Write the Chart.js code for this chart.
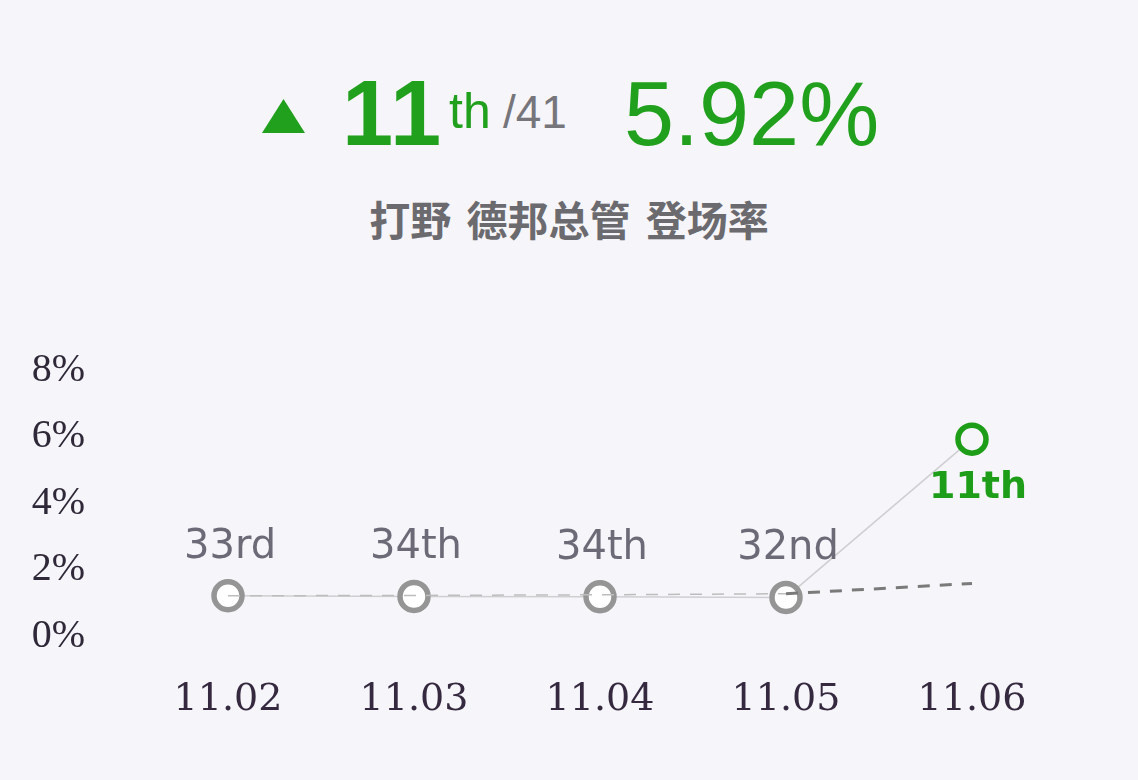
<!DOCTYPE html>
<html>
<head>
<meta charset="utf-8">
<script src="https://cdn.jsdelivr.net/npm/chart.js@4.4.1/dist/chart.umd.min.js"></script>
<style>
  html, body { margin:0; padding:0; background:#f6f5f9; }
  #wrap { position:relative; width:1138px; height:780px; overflow:hidden; background:#f6f5f9; }
  #wrap canvas { position:absolute; left:0; top:0; }
  .t { position:absolute; line-height:1; white-space:nowrap; font-family:"Liberation Sans", Arial, sans-serif; }
  #tri { position:absolute; left:262px; top:99px; width:43px; height:34px; background:#20a01c;
         clip-path:polygon(50% 0, 100% 100%, 0 100%); }
  #sub { position:absolute; left:0; width:1138px; top:198px; text-align:center; line-height:1;
         font-family:"Noto Sans CJK SC", sans-serif; font-weight:700; font-size:41px; color:#6b6a6e; word-spacing:6px; }
</style>
</head>
<body>
<div id="wrap">
  <div id="tri"></div>
  <div class="t" style="left:342px; top:67px; font-size:92px; font-weight:700; color:#20a01c; letter-spacing:2px;">11</div>
  <div class="t" style="left:449px; top:86px; font-size:50px; color:#20a01c;">th</div>
  <div class="t" style="left:503px; top:89px; font-size:46px; color:#76757c;">/41</div>
  <div class="t" style="left:624px; top:69px; font-size:90px; color:#20a01c;">5.92%</div>
  <div id="sub">打野 德邦总管 登场率</div>
  <canvas id="c" width="1138" height="780"></canvas>
</div>
<script>
const categories = ["11.02", "11.03", "11.04", "11.05", "11.06"];
const pickRate = [1.21, 1.19, 1.18, 1.16, 5.92];
const trendRate = [1.21, 1.22, 1.24, 1.27, 1.58];
const rankLabels = ["33rd", "34th", "34th", "32nd", "11th"];
const yTicks = [0, 2, 4, 6, 8];

const GREEN = "#1e9e18";
const GRAY = "#959595";

const rankLabelPlugin = {
  id: "rankLabels",
  afterDatasetsDraw(chart) {
    const meta = chart.getDatasetMeta(1);
    const ctx = chart.ctx;
    ctx.save();
    ctx.textAlign = "center";
    ctx.textBaseline = "alphabetic";
    meta.data.forEach((pt, i) => {
      const last = i === rankLabels.length - 1;
      if (last) {
        ctx.font = "bold 38px 'DejaVu Sans', sans-serif";
        ctx.fillStyle = GREEN;
        ctx.fillText(rankLabels[i], pt.x + 6, pt.y + 59);
      } else {
        ctx.font = "40px 'DejaVu Sans', sans-serif";
        ctx.fillStyle = "#6d6a78";
        ctx.fillText(rankLabels[i], pt.x + 2, pt.y - 38);
      }
    });
    ctx.restore();
  }
};

new Chart(document.getElementById("c"), {
  type: "line",
  data: {
    labels: categories,
    datasets: [
      {
        data: trendRate,
        borderColor: "#7a7a7a",
        borderWidth: 3,
        borderDash: [12, 10],
        pointRadius: 0,
        fill: false,
        tension: 0,
        segment: {
          borderColor: c => c.p1DataIndex < 4 ? "#bdbdbd" : "#7a7a7a",
          borderWidth: c => c.p1DataIndex < 4 ? 1.5 : 3
        }
      },
      {
        data: pickRate,
        borderColor: "#cfcfd2",
        borderWidth: 1.5,
        fill: false,
        tension: 0,
        pointRadius: 14,
        pointBorderWidth: 5.5,
        pointBackgroundColor: (c) => c.dataIndex === 4 ? "#f6f5f9" : "#ffffff",
        pointBorderColor: (c) => c.dataIndex === 4 ? GREEN : GRAY
      }
    ]
  },
  options: {
    responsive: false,
    animation: false,
    events: [],
    layout: { padding: { top: 370, right: 73, left: 0, bottom: 0 } },
    plugins: { legend: { display: false }, tooltip: { enabled: false }, title: { display: false } },
    scales: {
      x: {
        offset: true,
        grid: { display: false, drawTicks: false },
        border: { display: false },
        ticks: {
          padding: 41,
          color: "#35293f",
          font: { family: "'DejaVu Serif', serif", size: 38 }
        },
        afterFit: s => { s.height = 144; }
      },
      y: {
        min: 0,
        max: 8,
        grid: { display: false, drawTicks: false },
        border: { display: false },
        afterBuildTicks: s => { s.ticks = yTicks.map(v => ({ value: v })); },
        ticks: {
          padding: 50,
          color: "#2f2838",
          font: { family: "'Liberation Serif', serif", size: 40 },
          callback: v => v + "%"
        },
        afterFit: s => { s.width = 135; }
      }
    }
  },
  plugins: [rankLabelPlugin]
});
</script>
</body>
</html>
